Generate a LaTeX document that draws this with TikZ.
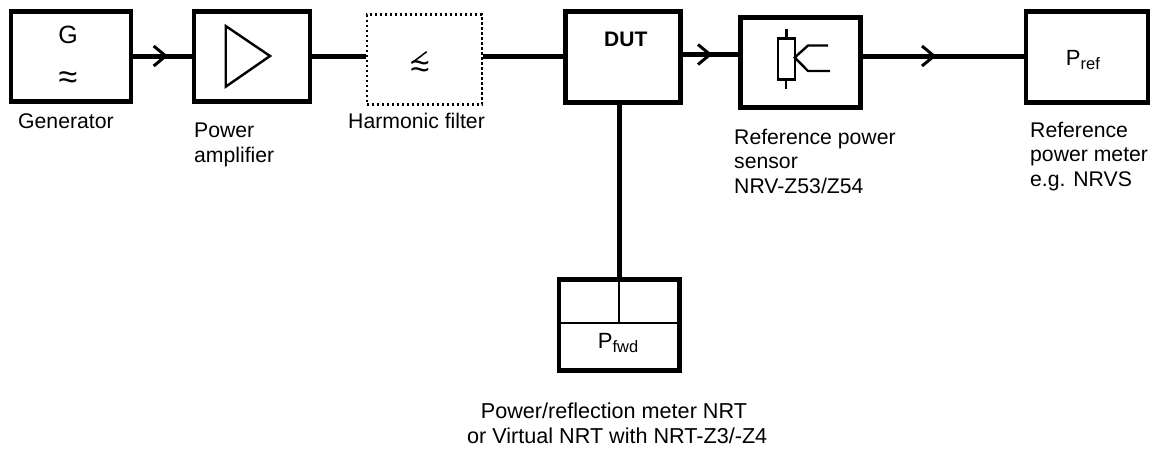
\documentclass[tikz,border=0pt]{standalone}
\usepackage{fontspec}
\setmainfont{Liberation Sans}
\usetikzlibrary{calc}
\tikzset{
  blockbox/.style={draw=black,line width=4.6pt,rectangle,minimum width=#1,inner sep=0pt},
  blockbox/.default=116pt,
  dotbox/.style={draw=black,line width=2.4pt,dash pattern=on 2.4pt off 2.6pt,rectangle,inner sep=0pt},
  wire/.style={line width=5pt},
  thinl/.style={line width=2.4pt},
  chev/.style={line width=3pt},
  lab/.style={anchor=base west,align=left,inner sep=0pt,font=\fontsize{21.2}{24.5}\selectfont},
  sym/.style={anchor=base,inner sep=0pt,font=\fontsize{25}{25}\selectfont},
  apx/.style={anchor=base,inner sep=0pt,font=\fontsize{34}{34}\selectfont},
}
\newcommand{\Psub}[1]{{\fontsize{22}{22}\selectfont P}\raisebox{-4pt}{\fontsize{16.5}{16.5}\selectfont #1}}
\begin{document}
\begin{tikzpicture}[x=1pt,y=-1pt]
\useasboundingbox (0,0) rectangle (1151,448);
% boxes
\node[blockbox=120pt,minimum height=90pt] (gen) at (70.8,56.7) {};
\node[blockbox=116pt,minimum height=90pt] (amp) at (252,56.7) {};
\node[dotbox,minimum width=115pt,minimum height=90pt] (filt) at (424.4,59.5) {};
\node[blockbox=114.5pt,minimum height=90.6pt] (dut) at (623,57) {};
\node[blockbox=120.4pt,minimum height=90.4pt] (sens) at (800.5,62.5) {};
\node[blockbox=122pt,minimum height=91pt] (pref) at (1087,57) {};
\node[blockbox=120.6pt,minimum height=90.8pt] (pfwd) at (619.3,325) {};
% wires
\draw[wire] ([yshift=0.7pt]gen.east) -- ([yshift=0.7pt]amp.west);
\draw[wire] ([yshift=0.7pt]amp.east) -- ([yshift=3.5pt]filt.west);
\draw[wire] ([yshift=3.5pt]filt.east) -- ([yshift=1pt]dut.west);
\draw[wire] ([yshift=2.5pt]dut.east) -- ([yshift=8pt]sens.west);
\draw[wire] ([yshift=6.5pt]sens.east) -- ([yshift=1pt]pref.west);
\draw[wire] ([xshift=-4pt]dut.south) -- ([xshift=-0.3pt]pfwd.north);
% chevrons
\foreach \nm/\px/\py in {a/165.7/56,b/710/54.5,c/934/56}{
  \coordinate (chev\nm) at (\px,\py);
  \draw[chev] ($(chev\nm)+(-12,-10)$) -- (chev\nm) -- ($(chev\nm)+(-12,10)$);
}
% generator
\node[sym] (gtxt) at (68,43) {G};
\node[apx] (gapp) at (68,88) {≈};
% amplifier
\coordinate (tria) at (225.7,26);
\coordinate (trib) at (270,56);
\coordinate (tric) at (225.7,86.7);
\draw[thinl,line join=miter] (tria) -- (trib) -- (tric) -- cycle;
% filter
\node[apx] (fapp) at (420,77) {≈};
\coordinate (fs1) at (411.7,63);
\coordinate (fs2) at (426.7,51.7);
\draw[line width=1.5pt] (fs2) -- (fs1);
% DUT
\node[lab,font=\fontsize{21}{24.5}\selectfont\bfseries] (duttxt) at (604,46.7) {DUT};
% sensor
\coordinate (r1) at (777.7,38.3);
\coordinate (r2) at (794.7,79.3);
\draw[thinl] (r1) rectangle (r2);
\coordinate (rt) at (786.5,38.3);
\coordinate (rtt) at (786.5,28.7);
\coordinate (rb) at (786,79.3);
\coordinate (rbb) at (786,88.5);
\draw[thinl] (rt) -- (rtt);
\draw[thinl] (rb) -- (rbb);
\coordinate (k0) at (794.7,57.5);
\coordinate (k1) at (808,45.5);
\coordinate (k2) at (828,45.5);
\coordinate (k3) at (808,71);
\coordinate (k4) at (830,71);
\draw[thinl] (k2) -- (k1) -- (k0) -- (k3) -- (k4);
% pref
\node[lab] (preftxt) at (1065.7,65) {\Psub{ref}};
% pfwd
\coordinate (hl) at (pfwd.west |- 0,322.7);
\coordinate (hr) at (pfwd.east |- 0,322.7);
\draw[thinl] (hl) -- (hr);
\coordinate (vb) at (619,322.7);
\draw[thinl] (pfwd.north -| vb) -- (vb);
\node[lab] (pfwdtxt) at (597.7,348) {\Psub{fwd}};
% labels
\node[lab] (l1) at (18,128) {Generator};
\node[lab] (l2) at (194,162) {Power\\amplifier};
\node[lab] (l3) at (348,128) {Harmonic filter};
\node[lab] (l4) at (734,193) {Reference power\\sensor\\NRV-Z53/Z54};
\node[lab] (l5) at (1030,186) {Reference\\power meter\\e.g. NRVS};
\node[lab,font=\fontsize{21.6}{25}\selectfont] (l6) at (467,443) {\hspace{13.7pt}Power/reflection meter NRT\\or Virtual NRT with NRT-Z3/-Z4};
\end{tikzpicture}
\end{document}
